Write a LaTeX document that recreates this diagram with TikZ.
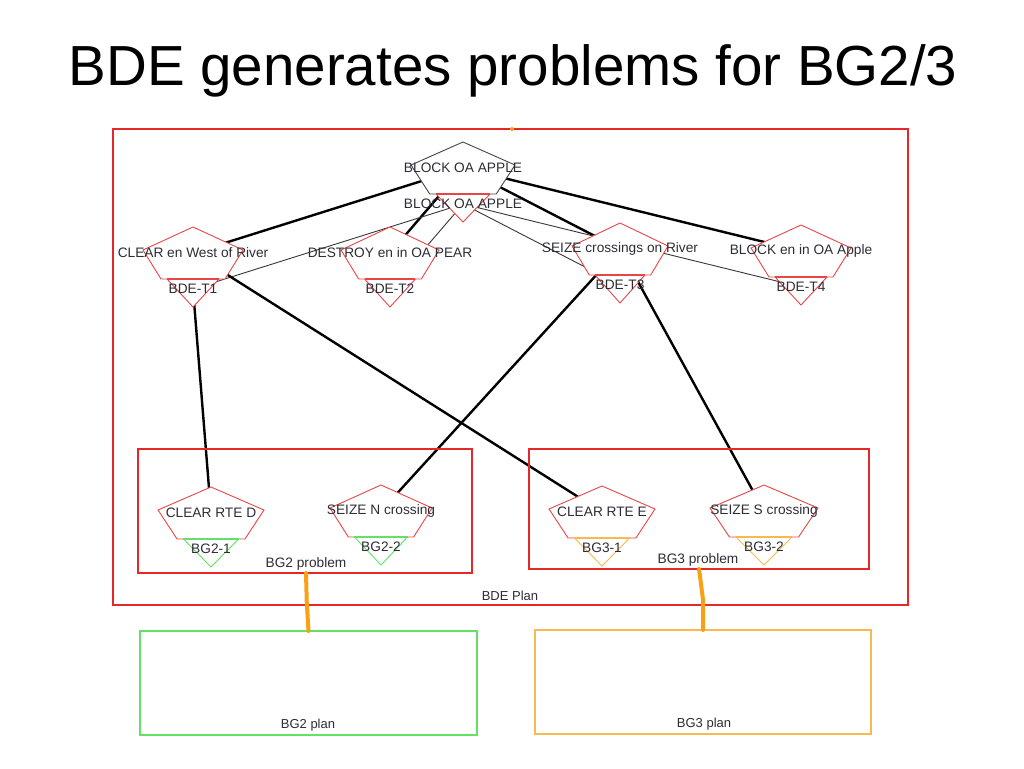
\documentclass[tikz,border=0pt]{standalone}
\usepackage{fontspec}
\setmainfont{Liberation Sans}
\usetikzlibrary{calc}
\pgfdeclarelayer{paper}
\pgfdeclarelayer{edges}
\pgfsetlayers{paper,edges,main}
\definecolor{pred}{RGB}{232,70,70}
\definecolor{boxred}{RGB}{228,40,40}
\definecolor{pgreen}{RGB}{100,225,100}
\definecolor{porange}{RGB}{248,185,80}
\definecolor{thickor}{RGB}{250,160,20}
\definecolor{txt}{RGB}{45,45,55}
\definecolor{thinc}{RGB}{55,55,55}
\definecolor{pgray}{RGB}{70,70,70}
\tikzset{
  lab/.style={font=\fontsize{13.7}{15}\selectfont, text=txt, inner sep=0pt},
  boxlab/.style={font=\fontsize{13}{15}\selectfont, text=txt, inner sep=0pt},
  strong/.style={line width=2.4pt, draw=black},
  weak/.style={line width=0.9pt, draw=thinc},
  plan/.style={draw=#1, line width=1.1pt, outer sep=0pt, inner sep=0pt},
  handoff/.style={line width=4pt, draw=thickor, line cap=round},
}
\newcommand\goalnode[8]{%
  \begin{scope}[shift={(#2,#3)}]
    \filldraw[fill=white, draw=#7, line width=0.9pt] ({-0.52*#8},26) -- ({0.52*#8},26) -- (0,54) -- cycle;
    \filldraw[fill=white, draw=#6, line width=0.9pt] (0,-26) -- (#8,-3) -- ({0.64*#8},26) -- ({-0.64*#8},26) -- (-#8,-3) -- cycle;
    \draw[draw=#7, line width=1.3pt] ({-0.52*#8},26) -- ({0.52*#8},26);
    \node[lab] (#1) at (0,0) {#4};
    \node[lab] (#1-t) at (0,36) {#5};
  \end{scope}}
\begin{document}
\begin{tikzpicture}[x=1pt,y=-1pt]
\begin{pgfonlayer}{paper}
  \fill[white] (0,0) rectangle (1024,768);
\end{pgfonlayer}
\useasboundingbox (0,0) rectangle (1024,768);

% title
\node[font=\fontsize{56.5}{60}\selectfont, anchor=base, inner sep=0pt] (title) at (513,85) {BDE generates problems for BG2/3};

% boxes
\node[plan=boxred, minimum width=795pt, minimum height=476pt] (bdeplan) at (510.5,367) {};
\node[boxlab] (bdeplanlab) at (510,596) {BDE Plan};
\node[plan=boxred, minimum width=334pt, minimum height=124pt] (bg2prob) at (305,511) {};
\node[lab] (bg2problab) at (306,564) {BG2 problem};
\node[plan=boxred, minimum width=340pt, minimum height=120pt] (bg3prob) at (699,509) {};
\node[lab] (bg3problab) at (698,560) {BG3 problem};
\node[plan=pgreen, minimum width=337pt, minimum height=104pt] (bg2plan) at (308.5,683) {};
\node[boxlab] (bg2planlab) at (308,725) {BG2 plan};
\node[plan=porange, minimum width=336pt, minimum height=104pt] (bg3plan) at (703,682) {};
\node[boxlab] (bg3planlab) at (704,724) {BG3 plan};

% goal nodes
\goalnode{top}{463}{168}{BLOCK OA APPLE}{BLOCK OA APPLE}{pgray}{pred}{52}
\goalnode{t1}{193}{253}{CLEAR en West of River}{BDE-T1}{pred}{pred}{50}
\goalnode{t2}{390}{253}{DESTROY en in OA PEAR}{BDE-T2}{pred}{pred}{49}
\goalnode{t3}{620}{249}{SEIZE crossings on River}{BDE-T3}{pred}{pred}{48}
\goalnode{t4}{801}{251}{BLOCK en in OA Apple}{BDE-T4}{pred}{pred}{50}
\goalnode{rted}{211}{513}{CLEAR RTE D}{BG2-1}{pred}{pgreen}{53}
\goalnode{seizen}{381}{511}{SEIZE N crossing}{BG2-2}{pred}{pgreen}{51}
\goalnode{rtee}{602}{512}{CLEAR RTE E}{BG3-1}{pred}{porange}{53}
\goalnode{seizes}{764}{511}{SEIZE S crossing}{BG3-2}{pred}{porange}{54}

% connectors
\begin{pgfonlayer}{edges}
  \draw[strong] (top.center) -- (t1.center);
  \draw[strong] (top.center) -- (t2.center);
  \draw[strong] (top.center) -- (t3.center);
  \draw[strong] (top.center) -- (t4.center);
  \draw[weak] (top-t.center) -- (t1-t.center);
  \draw[weak] (top-t.center) -- (t2-t.center);
  \draw[weak] (top-t.center) -- (t3-t.center);
  \draw[weak] (top-t.center) -- (t4-t.center);
  \draw[strong] (t1-t.center) -- (rted.center);
  \draw[strong] (t1.center) -- (rtee.center);
  \draw[strong] (t3.center) -- (seizen.center);
  \draw[strong] (t3.center) -- (seizes.center);
\end{pgfonlayer}
\draw[handoff] ($(bg2prob.south)+(1,0)$) -- ($(bg2prob.south)!0.5!(bg2plan.north)+(0,0)$) -- (bg2plan.north);
\draw[handoff] (bg3prob.south) -- ($(bg3prob.south)!0.5!(bg3plan.north)+(2,0)$) -- (bg3plan.north);
\fill[thickor] ($(bdeplan.north)+(1.5,0)$) circle (2);
\end{tikzpicture}
\end{document}
